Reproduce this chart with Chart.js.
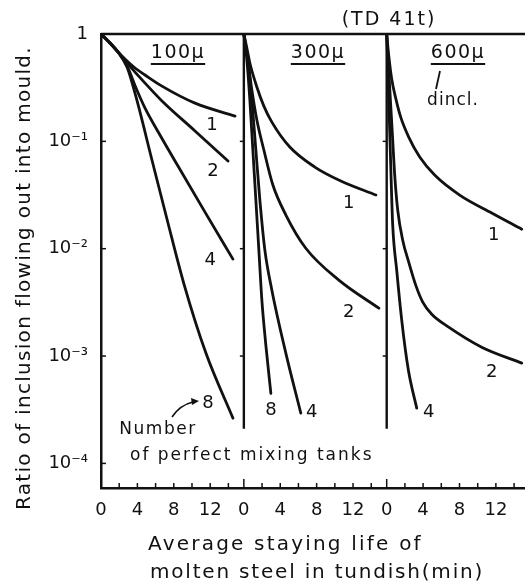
<!DOCTYPE html>
<html>
<head>
<meta charset="utf-8">
<script src="https://cdn.jsdelivr.net/npm/chart.js@4/dist/chart.umd.min.js"></script>
<style>
  html, body { margin: 0; padding: 0; background: #fff; }
</style>
</head>
<body>
<canvas id="chart" width="525" height="587"></canvas>
<script>
// inclusion diameter for each panel, left to right
const panelSizes = ["100μ", "300μ", "600μ"];

// [time (min), ratio] along each curve, named by diameter and number of tanks
const d100_n1 = [[0, 1], [0.99, 0.824], [1.87, 0.68], [2.75, 0.573], [3.74, 0.482], [4.84, 0.415], [6.7, 0.327], [10.33, 0.227], [14.73, 0.172]];
const d100_n2 = [[0, 1], [0.99, 0.824], [1.87, 0.68], [2.97, 0.525], [4.84, 0.349], [6.7, 0.238], [10.33, 0.125], [13.96, 0.0655]];
const d100_n4 = [[0, 1], [0.99, 0.824], [1.87, 0.68], [2.97, 0.482], [3.85, 0.314], [4.84, 0.204], [6.48, 0.1145], [8.46, 0.0589], [11.43, 0.0219], [14.5, 0.008]];
const d100_n8 = [[0, 1], [0.99, 0.824], [1.87, 0.68], [2.86, 0.492], [3.85, 0.259], [5.6, 0.067], [7.25, 0.0189], [9.12, 0.00468], [11.54, 0.00106], [14.5, 0.000264]];

const d300_n1 = [[0, 1], [0.33, 0.741], [0.66, 0.537], [1.43, 0.321], [2.2, 0.213], [3.08, 0.151], [5.05, 0.0885], [7.8, 0.0576], [10.66, 0.0427], [14.51, 0.0316]];
const d300_n2 = [[0, 1], [0.44, 0.573], [0.88, 0.301], [1.43, 0.158], [2.2, 0.083], [3.19, 0.0392], [4.62, 0.0206], [6.81, 0.0101], [10.44, 0.0051], [14.84, 0.00279]];
const d300_n4 = [[0, 1], [0.44, 0.573], [0.88, 0.243], [1.32, 0.083], [1.76, 0.0284], [2.31, 0.0097], [3.08, 0.00411], [4.62, 0.00106], [6.26, 0.000294]];
const d300_n8 = [[0, 1], [0.33, 0.573], [0.66, 0.243], [0.99, 0.083], [1.32, 0.0284], [1.65, 0.0097], [1.98, 0.00332], [2.42, 0.00126], [2.97, 0.00045]];

const d600_n1 = [[0, 1], [0.22, 0.637], [0.55, 0.381], [0.99, 0.253], [1.54, 0.168], [2.42, 0.1096], [3.63, 0.0714], [5.27, 0.0485], [8.02, 0.0316], [11.54, 0.0215], [14.84, 0.0152]];
const d600_n2 = [[0, 1], [0.22, 0.461], [0.44, 0.218], [0.66, 0.1028], [0.88, 0.0485], [1.21, 0.0229], [1.76, 0.012], [2.42, 0.0075], [3.19, 0.00458], [3.96, 0.00318], [4.95, 0.00245], [6.81, 0.00186], [10.44, 0.00121], [14.84, 0.00086]];
const d600_n4 = [[0, 1], [0.165, 0.372], [0.33, 0.127], [0.49, 0.0436], [0.66, 0.0166], [1.1, 0.0063], [1.65, 0.00216], [2.38, 0.00074], [3.3, 0.000327]];

const panelCurves = [
  [d100_n1, d100_n2, d100_n4, d100_n8],
  [d300_n1, d300_n2, d300_n4, d300_n8],
  [d600_n1, d600_n2, d600_n4]
];

// tick labels
const yTickValues = [1, 1e-1, 1e-2, 1e-3, 1e-4];
const yTickLabels = ["1", "10⁻¹", "10⁻²", "10⁻³", "10⁻⁴"];
const xTickMinutes = [0, 2, 4, 6, 8, 10, 12, 14];
const xLabelEvery = 4;

// curve numbers: panel, time, ratio, text
const curveLabels = [
  [0, 12.2, 0.142, "1"], [0, 12.3, 0.053, "2"], [0, 12.0, 0.0078, "4"], [0, 11.76, 0.00036, "8"],
  [1, 11.54, 0.0266, "1"], [1, 11.54, 0.00256, "2"], [1, 2.97, 0.00031, "8"], [1, 7.47, 0.0003, "4"],
  [2, 11.76, 0.0134, "1"], [2, 11.54, 0.00071, "2"], [2, 4.62, 0.0003, "4"]
];

const PANEL = 15.7;        // minutes taken by one panel on the shared axis
const X_MAX = 46.6;
const Y_MIN = 5.9e-5;
const SEP_BOTTOM = 2.1e-4; // lower end of the panel dividers
const INK = "#111";
const FONT = '"DejaVu Sans", sans-serif';

Chart.defaults.font.family = FONT;
Chart.defaults.color = INK;

function localMinute(value) {
  const p = Math.floor((value + 1e-6) / PANEL);
  return Math.round(value - p * PANEL);
}

let datasets = [];
panelCurves.forEach((curves, p) => {
  curves.forEach(points => {
    datasets.push({
      data: points.map(([t, r]) => ({ x: p * PANEL + t, y: r })),
      borderColor: INK,
      borderWidth: 2.8,
      pointRadius: 0,
      cubicInterpolationMode: "monotone",
      borderCapStyle: "round",
      borderJoinStyle: "round",
      fill: false
    });
  });
});

// dividers between panels
[1, 2].forEach(p => {
  datasets.push({
    data: [{ x: p * PANEL, y: 1 }, { x: p * PANEL, y: SEP_BOTTOM }],
    borderColor: INK,
    borderWidth: 2.4,
    pointRadius: 0,
    fill: false
  });
});

function seg(ctx, x1, y1, x2, y2) {
  ctx.beginPath();
  ctx.moveTo(x1, y1);
  ctx.lineTo(x2, y2);
  ctx.stroke();
}

function putText(ctx, str, x, y, size, align, spacing, baseline) {
  ctx.font = size + "px " + FONT;
  ctx.letterSpacing = (spacing || 0) + "px";
  ctx.textAlign = align || "center";
  ctx.textBaseline = baseline || "middle";
  ctx.fillText(str, x, y);
  return ctx.measureText(str).width;
}

const decor = {
  id: "decor",
  afterDatasetsDraw(chart) {
    const { ctx, chartArea: area, scales: { x, y } } = chart;
    ctx.save();
    ctx.strokeStyle = INK;
    ctx.fillStyle = INK;

    // top frame line
    ctx.lineWidth = 2.5;
    seg(ctx, area.left, area.top, area.right, area.top);

    // inward ticks on both axes
    ctx.lineWidth = 1.5;
    yTickValues.forEach(v => {
      const py = y.getPixelForValue(v);
      seg(ctx, area.left, py, area.left + 5, py);
    });
    x.ticks.forEach(tk => {
      const px = x.getPixelForValue(tk.value);
      const len = localMinute(tk.value) === 0 ? 9 : 5;
      seg(ctx, px, area.bottom, px, area.bottom - len);
    });
    [1, 2].forEach(p => {
      const px = x.getPixelForValue(p * PANEL);
      yTickValues.forEach(v => {
        if (v < 1 && v > SEP_BOTTOM) {
          const py = y.getPixelForValue(v);
          seg(ctx, px - 4, py, px, py);
        }
      });
    });

    // curve numbers
    curveLabels.forEach(([p, t, r, s]) => {
      putText(ctx, s, x.getPixelForValue(p * PANEL + t), y.getPixelForValue(r), 18, "center", 0);
    });

    // panel headings, underlined
    const headX = [178, 318, 458];
    panelSizes.forEach((s, i) => {
      const w = putText(ctx, s, headX[i], 53, 19, "center", 1.5);
      ctx.lineWidth = 1.8;
      seg(ctx, headX[i] - w / 2, 64, headX[i] + w / 2, 64);
    });
    putText(ctx, "(TD 41t)", 389, 20, 19, "center", 2);

    // d incl. pointer
    ctx.lineWidth = 1.8;
    seg(ctx, 440, 71, 436, 89);
    putText(ctx, "dincl.", 453, 101, 17, "center", 1);

    // tank count note with arrow to curve 8
    putText(ctx, "Number", 158, 430, 17, "center", 1.5);
    putText(ctx, "of perfect mixing tanks", 130, 456, 17, "left", 2);
    ctx.lineWidth = 1.6;
    ctx.beginPath();
    ctx.moveTo(172, 417);
    ctx.quadraticCurveTo(180, 405, 193, 402);
    ctx.stroke();
    ctx.beginPath();
    ctx.moveTo(199, 401);
    ctx.lineTo(191, 398);
    ctx.lineTo(192, 405);
    ctx.closePath();
    ctx.fill();

    // axis titles
    putText(ctx, "Average staying life of", 148, 550, 20, "left", 2.2, "alphabetic");
    putText(ctx, "molten steel in tundish(min)", 150, 578, 20, "left", 1.8, "alphabetic");
    ctx.translate(25, 278);
    ctx.rotate(-Math.PI / 2);
    putText(ctx, "Ratio of inclusion flowing out into mould.", 0, 0, 20, "center", 1.3);

    ctx.restore();
  }
};

new Chart(document.getElementById("chart"), {
  type: "line",
  data: { datasets: datasets },
  options: {
    responsive: false,
    animation: false,
    devicePixelRatio: 1,
    layout: { padding: { top: 34, left: 0, right: 0, bottom: 0 } },
    plugins: { legend: { display: false }, tooltip: { enabled: false } },
    scales: {
      x: {
        type: "linear",
        min: 0,
        max: X_MAX,
        grid: { display: false },
        border: { display: true, color: INK, width: 2.5 },
        afterBuildTicks: scale => {
          const ticks = [];
          for (let p = 0; p < 3; p++) {
            xTickMinutes.forEach(m => {
              const v = p * PANEL + m;
              if (v <= X_MAX) ticks.push({ value: v });
            });
          }
          scale.ticks = ticks;
        },
        ticks: {
          autoSkip: false,
          maxRotation: 0,
          padding: 4,
          font: { size: 18 },
          callback: value => {
            const m = localMinute(value);
            return m % xLabelEvery === 0 ? String(m) : "";
          }
        },
        afterFit: scale => { scale.height = 99; }
      },
      y: {
        type: "logarithmic",
        min: Y_MIN,
        max: 1,
        grid: { display: false },
        border: { display: true, color: INK, width: 2.5 },
        afterBuildTicks: scale => {
          scale.ticks = yTickValues.map(v => ({ value: v }));
        },
        ticks: {
          padding: 5,
          font: { size: 18 },
          callback: value => yTickLabels[yTickValues.indexOf(value)]
        },
        afterFit: scale => { scale.width = 101; }
      }
    }
  },
  plugins: [decor]
});
</script>
</body>
</html>
